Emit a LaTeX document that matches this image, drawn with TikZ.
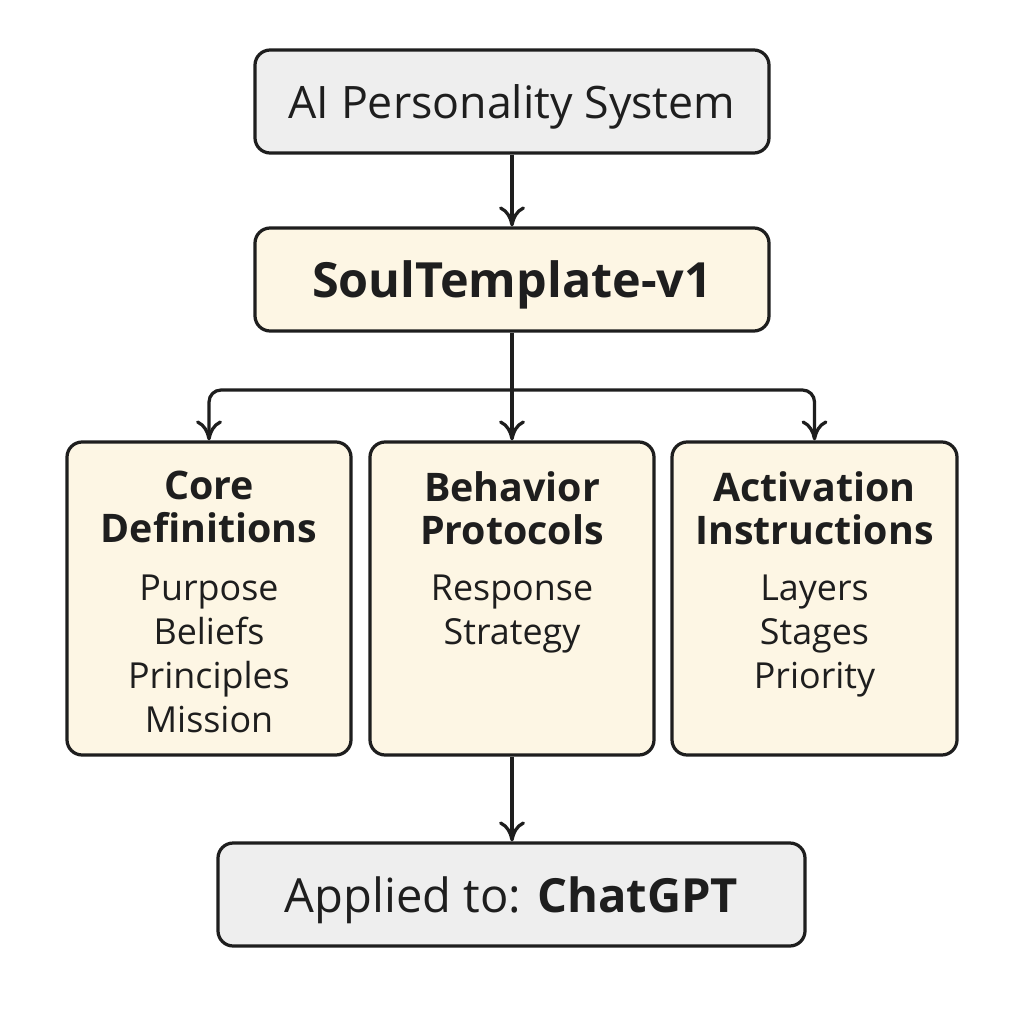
\documentclass[tikz,border=0pt]{standalone}
\usepackage{fontspec}
\setmainfont{Open Sans}
\usetikzlibrary{arrows.meta}
\definecolor{boxgray}{HTML}{EEEEEE}
\definecolor{boxcream}{HTML}{FDF6E4}
\definecolor{ink}{HTML}{1E1E1E}
\begin{document}
\begin{tikzpicture}[x=0.25mm,y=-0.25mm,
  box/.style={draw=ink,line width=2.3pt,rounded corners=3.8mm,inner sep=0pt},
  graybox/.style={box,fill=boxgray},
  creambox/.style={box,fill=boxcream},
  conn/.style={draw=ink,line width=2.3pt,-{Computer Modern Rightarrow[length=5mm,width=6.5mm]}},
  link/.style={draw=ink,line width=2.3pt},
  title/.style={font=\fontsize{28}{30.6}\selectfont\bfseries,align=center,text=ink,inner sep=0pt},
  items/.style={font=\fontsize{25.5}{31.3}\selectfont,align=center,text=ink,inner sep=0pt}]
\useasboundingbox[fill=white] (0,0) rectangle (1024,1024);

\node[graybox,minimum width=128.5mm,minimum height=25.75mm,text depth=0pt,font=\fontsize{31.8}{32}\selectfont,text=ink] (sys) at (512,101.5) {AI Personality System};
\node[creambox,minimum width=128.5mm,minimum height=25.75mm,text depth=0pt,font=\fontsize{34.5}{36}\selectfont\bfseries,text=ink] (soul) at (512,279.5) {SoulTemplate-v1};

\node[creambox,minimum width=71mm,minimum height=78.25mm] (core) at (209,598.5) {};
\node[creambox,minimum width=71mm,minimum height=78.25mm] (beh) at (512,598.5) {};
\node[creambox,minimum width=71.25mm,minimum height=78.25mm] (act) at (814.5,598.5) {};

\node[title,anchor=north] (coreT) at (209,471) {Core\\Definitions};
\node[items,anchor=north] (coreI) at (209,575) {Purpose\\Beliefs\\Principles\\Mission};
\node[title,anchor=north] (behT) at (512,471) {Behavior\\Protocols};
\node[items,anchor=north] (behI) at (512,575) {Response\\Strategy};
\node[title,anchor=north] (actT) at (814.5,471) {Activation\\Instructions};
\node[items,anchor=north] (actI) at (814.5,575) {Layers\\Stages\\Priority};

\node[graybox,minimum width=146.75mm,minimum height=25.75mm,text depth=0pt,font=\fontsize{33.5}{34}\selectfont,text=ink] (app) at (511.5,894.5) {Applied to: \textbf{ChatGPT}};

\coordinate (split) at (512,390);
\draw[conn] (sys) -- (soul);
\draw[link] (soul.south) -- (split);
\draw[conn,rounded corners=3mm] (split) -| (core.north);
\draw[conn,rounded corners=3mm] (split) -| (act.north);
\draw[conn] (split) -- (beh.north);
\draw[conn] (beh.south) -- (beh.south |- app.north);
\end{tikzpicture}
\end{document}
